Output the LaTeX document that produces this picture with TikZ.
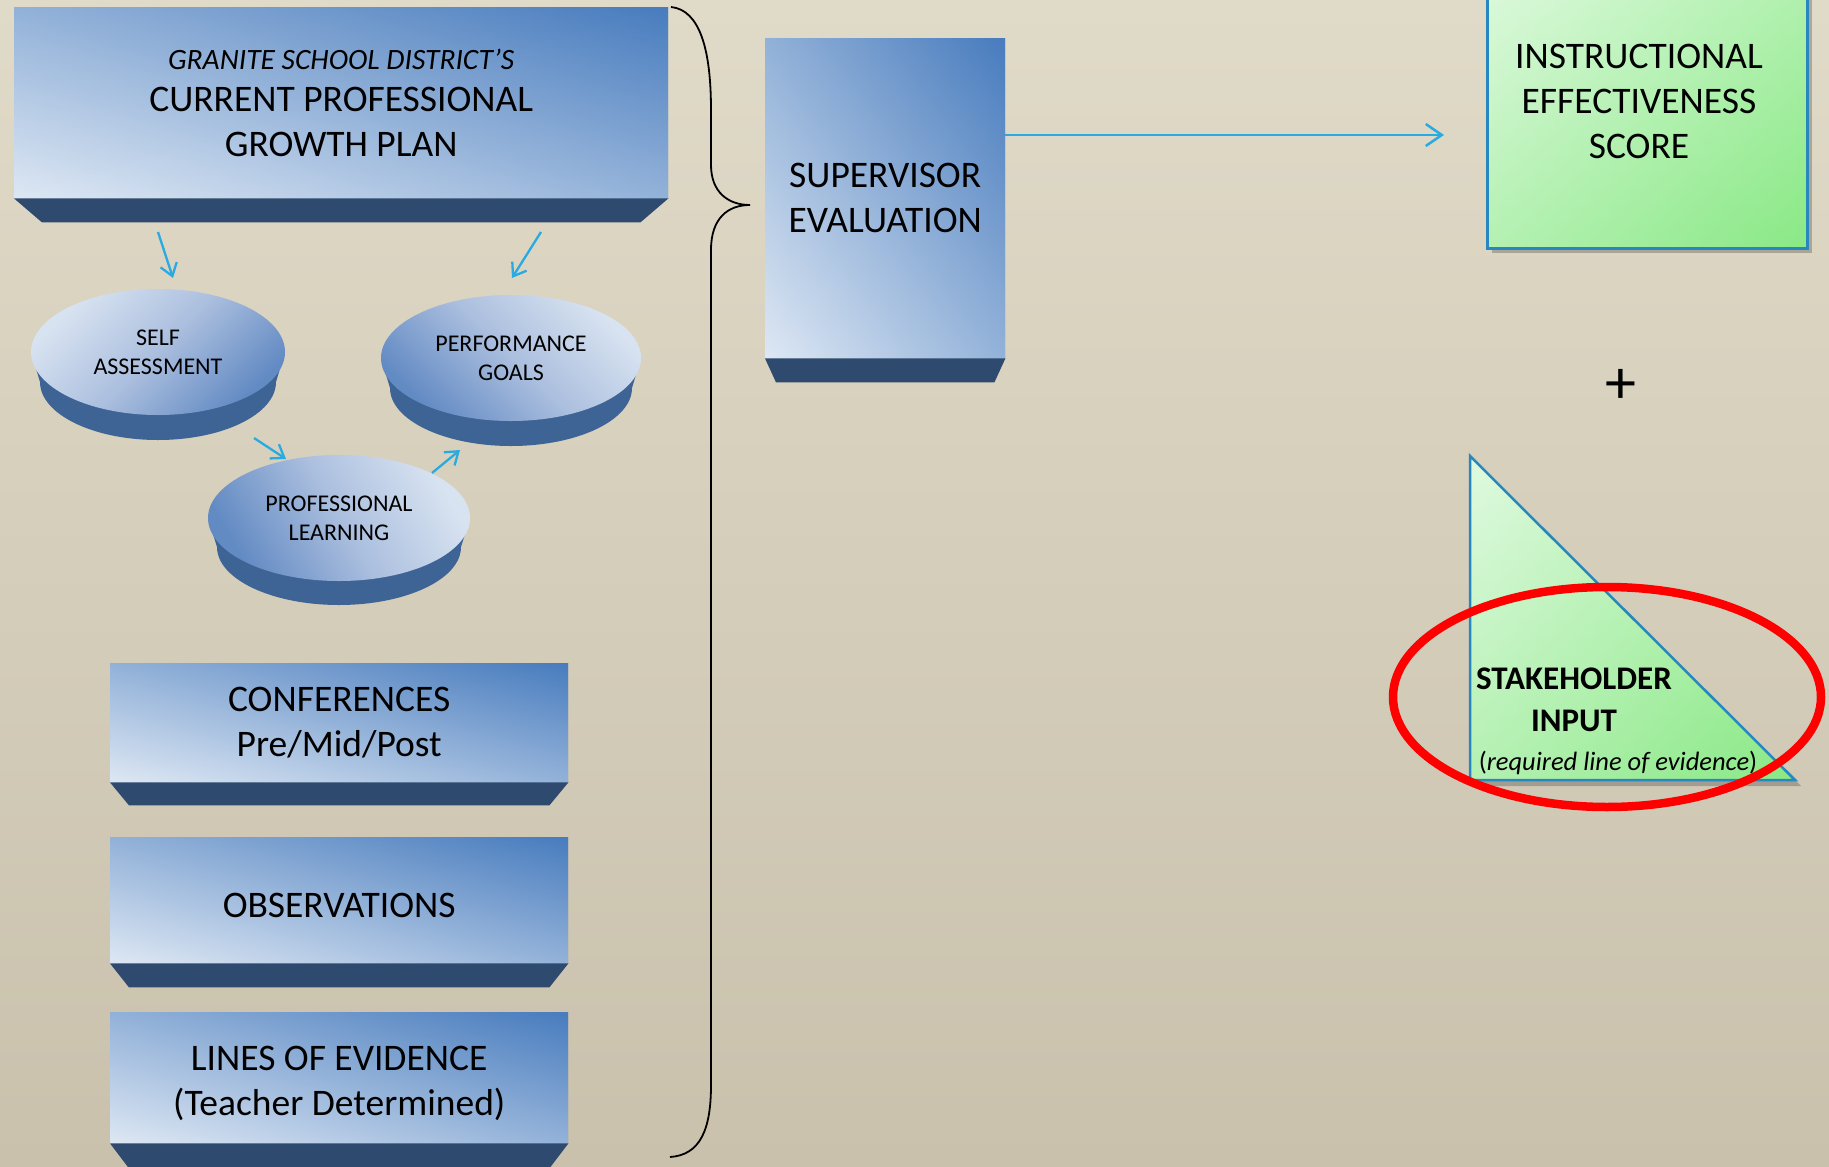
\documentclass[tikz,border=0pt]{standalone}
\usepackage{fontspec}
\setmainfont{Carlito}
\usetikzlibrary{arrows.meta,shapes.geometric,shadows,calc}
\definecolor{bgtop}{RGB}{224,218,200}
\definecolor{bgbot}{RGB}{201,193,172}
\definecolor{facedark}{RGB}{72,124,190}
\definecolor{facelight}{RGB}{222,232,244}
\definecolor{basecol}{RGB}{46,75,111}
\definecolor{sidecol}{RGB}{62,100,150}
\definecolor{disclight}{RGB}{216,227,241}
\definecolor{discmid}{RGB}{170,190,222}
\definecolor{discdark}{RGB}{98,138,195}
\definecolor{arrowcol}{RGB}{41,170,225}
\definecolor{greenlight}{RGB}{224,250,224}
\definecolor{greendark}{RGB}{138,233,134}
\definecolor{greenborder}{RGB}{40,135,190}
\newcommand{\mybigfont}{\fontsize{37.5}{45}\selectfont}
\newcommand{\mydiscfont}{\fontsize{24}{29}\selectfont}
\tikzset{
  facebox/.style={rectangle, inner sep=0pt, anchor=north west, align=center,
    font=\mybigfont,
    path picture={
      \shade[left color=facelight, right color=facedark]
        (path picture bounding box.south west) rectangle (path picture bounding box.north east);
      \shade[top color=facedark, bottom color=facelight, opacity=0.5]
        (path picture bounding box.south west) rectangle (path picture bounding box.north east);
    }},
  basebox/.style={fill=basecol},
  discside/.style={fill=sidecol},
  disctop/.style={ellipse, inner sep=0pt, align=center, font=\mydiscfont,
    top color=disclight, bottom color=discdark, middle color=discmid},
  greenfill/.style={
    path picture={
      \shade[left color=greenlight, right color=greendark]
        (path picture bounding box.south west) rectangle (path picture bounding box.north east);
      \shade[top color=greenlight, bottom color=greendark, opacity=0.5]
        (path picture bounding box.south west) rectangle (path picture bounding box.north east);
    }},
  greenshadow/.style={fill=black!70, fill opacity=0.35},
  greenedge/.style={draw=greenborder, line width=2.5pt},
  arr/.style={draw=arrowcol, line width=2.5pt, -{Straight Barb[length=16pt,width=22pt]}},
  sarr/.style={draw=arrowcol, line width=2.3pt, -{Straight Barb[length=12pt,width=17pt]}},
  bracestyle/.style={draw=black, line width=1.8pt},
  ring/.style={draw=red, line width=8.5pt}
}
\begin{document}
\begin{tikzpicture}[x=1pt,y=-1pt]
\useasboundingbox (0,0) rectangle (1829,1167);
\shade[top color=bgtop, bottom color=bgbot] (0,0) rectangle (1829,1167);

% growth plan box
\node[facebox, minimum width=654pt, minimum height=191pt] (gp) at (14,7)
  {{\itshape\fontsize{29.5}{34}\selectfont GRANITE SCHOOL DISTRICT’S}\\[-3pt]CURRENT PROFESSIONAL\\GROWTH PLAN};
\fill[basebox] (gp.south west) -- (gp.south east) -- ++(-28,24) -- ($(gp.south west)+(28,24)$) -- cycle;

% supervisor evaluation
\node[facebox, minimum width=240pt, minimum height=320pt] (sup) at (765,38)
  {SUPERVISOR\\EVALUATION};
\fill[basebox] (sup.south west) -- (sup.south east) -- ++(-11,24) -- ($(sup.south west)+(11,24)$) -- cycle;

% bottom boxes
\node[facebox, minimum width=458pt, minimum height=119pt] (conf) at (110,663)
  {CONFERENCES\\Pre/Mid/Post};
\fill[basebox] (conf.south west) -- (conf.south east) -- ++(-19,23) -- ($(conf.south west)+(19,23)$) -- cycle;
\node[facebox, minimum width=458pt, minimum height=126pt] (obs) at (110,837)
  {\mbox{}\\[-11pt]OBSERVATIONS};
\fill[basebox] (obs.south west) -- (obs.south east) -- ++(-19,24) -- ($(obs.south west)+(19,24)$) -- cycle;
\node[facebox, minimum width=458pt, minimum height=131pt] (loe) at (110,1012)
  {\mbox{}\\[-9pt]LINES OF EVIDENCE\\(Teacher Determined)};
\fill[basebox] (loe.south west) -- (loe.south east) -- ++(-19,25) -- ($(loe.south west)+(19,25)$) -- cycle;

% discs
\fill[discside] (158,382) ellipse[x radius=118, y radius=58];
\fill[discside] (31,352) -- (40,382) -- (276,382) -- (285,352) -- cycle;
\node[disctop, minimum width=254pt, minimum height=126pt, shading angle=45] (sa) at (158,352) {SELF\\ASSESSMENT};

\fill[discside] (511,388) ellipse[x radius=121, y radius=58];
\fill[discside] (381,358) -- (390,388) -- (632,388) -- (641,358) -- cycle;
\node[disctop, minimum width=260pt, minimum height=126pt, shading angle=-45] (pg) at (511,358) {PERFORMANCE\\GOALS};

\fill[discside] (339,547) ellipse[x radius=122, y radius=58];
\fill[discside] (208,518) -- (217,547) -- (461,547) -- (470,518) -- cycle;
\node[disctop, minimum width=262pt, minimum height=126pt, shading angle=-60] (pl) at (339,518) {PROFESSIONAL\\LEARNING};

% small arrows
\coordinate (a1s) at (158,232); \coordinate (a1e) at (173,278);
\coordinate (a2s) at (541,232); \coordinate (a2e) at (512,278);
\coordinate (a3s) at (254,438); \coordinate (a3e) at (286,459);
\coordinate (a4s) at (432,473); \coordinate (a4e) at (460,450);
\draw[sarr] (a1s) -- (a1e);
\draw[sarr] (a2s) -- (a2e);
\draw[sarr] (a3s) -- (a3e);
\draw[sarr] (a4s) -- (a4e);

% brace
\draw[bracestyle] (671,7) .. controls (700,10) and (711,50) .. (711,110) -- (711,165)
  .. controls (711,192) and (728,205) .. (750,205)
  .. controls (728,205) and (711,218) .. (711,250) -- (711,1085)
  .. controls (711,1130) and (700,1155) .. (670,1157);

% instructional effectiveness score
\fill[greenshadow] (1492,-39) rectangle (1812,253);
\node[rectangle, inner sep=0pt, anchor=north west,
  greenfill, greenedge, minimum width=320pt, minimum height=292pt] (ies) at (1486,-45) {};
\node[align=center, font=\mybigfont] (iestext) at (1639,101)
  {INSTRUCTIONAL\\EFFECTIVENESS\\SCORE};
\coordinate (a5e) at (1444,135);
\draw[arr] (sup.east |- a5e) -- (a5e);

% plus
\node[font=\fontsize{62}{62}\selectfont] (plus) at (1621,386) {+};

% stakeholder triangle
\fill[greenshadow] (1476,462) -- (1476,786) -- (1801,786) -- cycle;
\path[greenfill, greenedge] (1470,456) -- (1470,780) -- (1795,780) -- cycle;
\node[font=\bfseries\fontsize{33}{42}\selectfont, align=center] (stake) at (1574,700) {STAKEHOLDER\\INPUT};
\node[font=\fontsize{26.5}{30}\selectfont] (req) at (1618,763) {(\textit{required line of evidence})};
\draw[ring] (1607,697) ellipse[x radius=214, y radius=110];
\end{tikzpicture}
\end{document}
